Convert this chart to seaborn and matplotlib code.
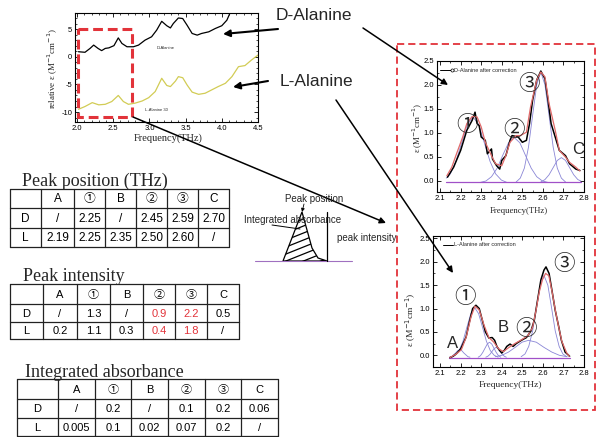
import matplotlib
matplotlib.use("Agg")
import matplotlib.pyplot as plt
import seaborn as sns
from matplotlib.patches import Rectangle, Polygon
from matplotlib.ticker import MultipleLocator

# ---------------- data: overview spectra (relative epsilon) ----------------
freq_D = [2.02, 2.11, 2.18, 2.23, 2.29, 2.34, 2.39, 2.44, 2.51, 2.57, 2.62, 2.69, 2.78,
          2.85, 2.94, 3.03, 3.10, 3.17, 3.24, 3.29, 3.33, 3.40, 3.46, 3.52, 3.59, 3.66,
          3.72, 3.82, 3.91, 4.00, 4.07, 4.11]
rel_D = [0.9, 0.8, 1.5, 2.1, 1.5, 1.1, 1.5, 1.6, 2.0, 3.4, 2.4, 1.8, 1.8,
         2.1, 3.0, 3.6, 4.8, 6.4, 5.6, 5.2, 6.0, 7.0, 6.9, 5.7, 4.2, 3.9,
         4.2, 4.5, 5.1, 5.6, 6.6, 7.8]
freq_L = [2.02, 2.11, 2.21, 2.30, 2.39, 2.48, 2.57, 2.64, 2.71, 2.80, 2.90, 2.99, 3.08,
          3.17, 3.24, 3.29, 3.36, 3.40, 3.46, 3.52, 3.59, 3.68, 3.77, 3.86, 3.95, 4.05,
          4.14, 4.23, 4.32, 4.41, 4.51]
rel_L = [-9.5, -9.0, -8.3, -8.7, -8.6, -8.1, -7.0, -8.1, -8.6, -8.4, -8.0, -7.4, -6.3,
         -3.9, -5.2, -5.4, -4.4, -3.6, -3.8, -5.1, -6.4, -6.8, -6.6, -6.0, -5.4, -4.8,
         -3.6, -1.8, -1.6, -0.6, 0.4]

# ---------------- data: D-Alanine after correction ----------------
d_freq = [2.136, 2.166, 2.20, 2.23, 2.256, 2.27, 2.28, 2.29, 2.30, 2.32, 2.33, 2.35, 2.355,
          2.375, 2.39, 2.40, 2.42, 2.44, 2.45, 2.48, 2.50, 2.52, 2.535, 2.55, 2.57, 2.59,
          2.61, 2.625, 2.64, 2.66, 2.68, 2.71, 2.73, 2.76, 2.78]
d_abs = [0.07, 0.28, 0.63, 1.05, 1.26, 1.43, 1.19, 1.15, 0.91, 0.84, 0.56, 0.66, 0.45,
         0.31, 0.24, 0.42, 0.52, 0.84, 0.94, 0.91, 0.80, 0.84, 1.19, 1.68, 2.10, 2.29,
         2.13, 1.68, 1.19, 0.91, 0.63, 0.52, 0.35, 0.24, 0.21]
dfit_freq = [2.133, 2.157, 2.18, 2.21, 2.23, 2.256, 2.28, 2.30, 2.32, 2.35, 2.37, 2.40, 2.42,
             2.44, 2.47, 2.49, 2.52, 2.54, 2.57, 2.59, 2.61, 2.63, 2.66, 2.68, 2.71, 2.73,
             2.76, 2.78]
dfit_abs = [0.10, 0.28, 0.56, 0.91, 1.19, 1.34, 1.33, 1.12, 0.80, 0.52, 0.35, 0.31, 0.52,
            0.80, 0.94, 0.94, 1.01, 1.54, 2.10, 2.27, 2.17, 1.61, 1.05, 0.63, 0.49, 0.38,
            0.28, 0.20]
d_c1_x = [2.13, 2.15, 2.177, 2.205, 2.232, 2.26, 2.288, 2.315, 2.343, 2.37, 2.398, 2.425]
d_c1_y = [0.05, 0.14, 0.40, 0.79, 1.17, 1.33, 1.17, 0.79, 0.40, 0.14, 0.01, -0.04]
d_c2_x = [2.295, 2.323, 2.35, 2.378, 2.405, 2.433, 2.46, 2.488, 2.515, 2.543, 2.57, 2.598, 2.625]
d_c2_y = [-0.04, -0.01, 0.08, 0.26, 0.53, 0.79, 0.90, 0.79, 0.53, 0.26, 0.08, -0.01, -0.04]
d_c3_x = [2.47, 2.49, 2.51, 2.53, 2.55, 2.57, 2.59, 2.61, 2.63, 2.65, 2.67, 2.69, 2.71]
d_c3_y = [-0.03, 0.05, 0.26, 0.70, 1.36, 2.00, 2.27, 2.00, 1.36, 0.70, 0.26, 0.05, -0.03]
d_cC_x = [2.59, 2.61, 2.63, 2.65, 2.67, 2.69, 2.71, 2.73, 2.75, 2.77, 2.785]
d_cC_y = [-0.03, 0.02, 0.12, 0.27, 0.42, 0.48, 0.42, 0.27, 0.12, 0.02, -0.01]
d_base_x = [2.13, 2.785]
d_base_y = [-0.04, -0.04]

# ---------------- data: L-Alanine after correction ----------------
l_freq = [2.147, 2.163, 2.18, 2.20, 2.226, 2.242, 2.258, 2.274, 2.29, 2.305, 2.32, 2.337,
          2.353, 2.365, 2.376, 2.388, 2.40, 2.413, 2.424, 2.44, 2.455, 2.47, 2.495, 2.52,
          2.542, 2.558, 2.574, 2.59, 2.605, 2.615, 2.63, 2.645, 2.66, 2.677, 2.69, 2.708, 2.73]
l_abs = [-0.05, -0.02, 0.04, 0.14, 0.39, 0.71, 1.0, 1.07, 1.0, 0.75, 0.5, 0.37,
         0.38, 0.32, 0.19, 0.11, 0.05, 0.11, 0.19, 0.24, 0.19, 0.25, 0.32, 0.38,
         0.52, 0.75, 1.18, 1.61, 1.82, 1.89, 1.75, 1.36, 0.96, 0.61, 0.32, 0.07, -0.02]
lfit_freq = [2.147, 2.179, 2.203, 2.226, 2.25, 2.269, 2.29, 2.313, 2.337, 2.361, 2.384, 2.408,
             2.432, 2.463, 2.495, 2.527, 2.55, 2.566, 2.582, 2.598, 2.613, 2.629, 2.645,
             2.661, 2.677, 2.692, 2.716, 2.729]
lfit_abs = [-0.05, 0.03, 0.12, 0.38, 0.82, 1.05, 0.97, 0.65, 0.38, 0.28, 0.14, 0.08,
            0.16, 0.25, 0.33, 0.42, 0.6, 0.95, 1.35, 1.62, 1.75, 1.7, 1.35,
            0.95, 0.6, 0.3, 0.05, -0.02]
l_cA_x = [2.145, 2.155, 2.165, 2.175, 2.185, 2.195, 2.205, 2.215, 2.225, 2.235, 2.245]
l_cA_y = [-0.04, -0.03, 0.01, 0.05, 0.10, 0.12, 0.10, 0.05, 0.01, -0.03, -0.04]
l_c1_x = [2.154, 2.173, 2.192, 2.211, 2.23, 2.249, 2.268, 2.287, 2.306, 2.325, 2.344, 2.363, 2.382]
l_c1_y = [-0.04, 0.00, 0.10, 0.30, 0.60, 0.89, 1.02, 0.89, 0.60, 0.30, 0.10, 0.00, -0.04]
l_cB1_x = [2.285, 2.296, 2.307, 2.318, 2.329, 2.34, 2.351, 2.362, 2.373, 2.384, 2.395]
l_cB1_y = [-0.04, -0.01, 0.06, 0.15, 0.24, 0.28, 0.24, 0.15, 0.06, -0.01, -0.04]
l_cB2_x = [2.322, 2.332, 2.342, 2.352, 2.362, 2.372, 2.382, 2.392, 2.402, 2.412, 2.422]
l_cB2_y = [-0.04, -0.02, 0.02, 0.08, 0.14, 0.17, 0.14, 0.08, 0.02, -0.02, -0.04]
l_c2_x = [2.368, 2.40, 2.433, 2.465, 2.498, 2.53, 2.568, 2.605, 2.643, 2.68, 2.718]
l_c2_y = [-0.03, 0.00, 0.07, 0.17, 0.28, 0.32, 0.28, 0.17, 0.07, 0.00, -0.03]
l_c3_x = [2.494, 2.513, 2.531, 2.55, 2.568, 2.587, 2.605, 2.624, 2.642, 2.66, 2.679, 2.697, 2.716]
l_c3_y = [-0.03, 0.03, 0.19, 0.52, 1.02, 1.50, 1.71, 1.50, 1.02, 0.52, 0.19, 0.03, -0.03]
l_base_x = [2.145, 2.73]
l_base_y = [-0.05, -0.05]

# ---------------- data: tables ----------------
peak_cols = ["A", "①", "B", "②", "③", "C"]
pos_D = ["/", "2.25", "/", "2.45", "2.59", "2.70"]
pos_L = ["2.19", "2.25", "2.35", "2.50", "2.60", "/"]
int_D = ["/", "1.3", "/", "0.9", "2.2", "0.5"]
int_L = ["0.2", "1.1", "0.3", "0.4", "1.8", "/"]
area_D = ["/", "0.2", "/", "0.1", "0.2", "0.06"]
area_L = ["0.005", "0.1", "0.02", "0.07", "0.2", "/"]
top_xticks = [2.0, 2.5, 3.0, 3.5, 4.0, 4.5]
top_yticks = [-10, -5, 0, 5]
fit_xticks = [2.1, 2.2, 2.3, 2.4, 2.5, 2.6, 2.7, 2.8]
fit_yticks = [0.0, 0.5, 1.0, 1.5, 2.0, 2.5]

# ---------------- figure ----------------
W, H = 597, 437
sns.set_theme(style="white")
plt.rcParams["font.family"] = ["Liberation Sans", "Noto Sans CJK JP", "DejaVu Sans"]
SANS = ["Liberation Sans", "Noto Sans CJK JP", "DejaVu Sans"]
SERIF = ["Liberation Serif", "DejaVu Serif"]
RED = "#e2333a"

fig = plt.figure(figsize=(W / 100, H / 100), dpi=100)
fig.patch.set_facecolor("white")


def add_ax(l, t, r, b):
    return fig.add_axes([l / W, 1 - b / H, (r - l) / W, (b - t) / H])


def style_axes(ax):
    for s in ax.spines.values():
        s.set_visible(True)
        s.set_color("black")
        s.set_linewidth(0.8)
    ax.set_facecolor("white")
    ax.tick_params(which="both", direction="in", top=True, right=True, bottom=True,
                   left=True, colors="black", labelsize=5.5, pad=2)
    ax.tick_params(which="major", length=3, width=0.6)
    ax.tick_params(which="minor", length=1.6, width=0.5)
    ax.set_xlabel("")
    ax.set_ylabel("")


# overview plot
ax0 = add_ax(75, 13, 258, 122)
sns.lineplot(x=freq_D, y=rel_D, ax=ax0, color="black", linewidth=0.9, legend=False)
sns.lineplot(x=freq_L, y=rel_L, ax=ax0, color="#d2cc55", linewidth=0.9, legend=False)
ax0.set_xlim(1.972, 4.5)
ax0.set_ylim(-11.8, 7.9)
ax0.set_xticks(top_xticks)
ax0.set_xticklabels([f"{v:.1f}" for v in top_xticks])
ax0.set_yticks(top_yticks)
ax0.set_yticklabels([str(v) for v in top_yticks])
ax0.xaxis.set_minor_locator(MultipleLocator(0.1))
ax0.yaxis.set_minor_locator(MultipleLocator(1))
style_axes(ax0)
ax0.text(3.22, 1.6, "D-Alanine", fontsize=3, ha="center", va="center")
ax0.text(3.1, -9.6, "L-Alanine 30", fontsize=3, ha="center", va="center")


def fit_panel(ax, mx, my, fx, fy, comps, bx, by, xl, yl):
    for cx, cy in comps:
        sns.lineplot(x=cx, y=cy, ax=ax, color="#8a86d6", linewidth=0.6, legend=False)
    sns.lineplot(x=bx, y=by, ax=ax, color="#a050c8", linewidth=0.9, legend=False)
    sns.lineplot(x=mx, y=my, ax=ax, color="black", linewidth=1.1, legend=False)
    sns.lineplot(x=fx, y=fy, ax=ax, color="#e06a6a", linewidth=0.9, legend=False)
    ax.set_xlim(*xl)
    ax.set_ylim(*yl)
    ax.set_xticks(fit_xticks)
    ax.set_xticklabels([f"{v:.1f}" for v in fit_xticks])
    ax.set_yticks(fit_yticks)
    ax.set_yticklabels([f"{v:.1f}" for v in fit_yticks])
    ax.xaxis.set_minor_locator(MultipleLocator(0.05))
    ax.yaxis.set_minor_locator(MultipleLocator(0.25))
    style_axes(ax)


axD = add_ax(437, 61, 584, 192)
fit_panel(axD, d_freq, d_abs, dfit_freq, dfit_abs,
          [(d_c1_x, d_c1_y), (d_c2_x, d_c2_y), (d_c3_x, d_c3_y), (d_cC_x, d_cC_y)],
          d_base_x, d_base_y, (2.085, 2.8), (-0.24, 2.5))

axL = add_ax(433, 236, 584, 367)
fit_panel(axL, l_freq, l_abs, lfit_freq, lfit_abs,
          [(l_cA_x, l_cA_y), (l_c1_x, l_c1_y), (l_cB1_x, l_cB1_y), (l_cB2_x, l_cB2_y),
           (l_c2_x, l_c2_y), (l_c3_x, l_c3_y)],
          l_base_x, l_base_y, (2.065, 2.8), (-0.25, 2.55))

# ---------------- overlay for annotations, tables ----------------
ov = fig.add_axes([0, 0, 1, 1])
ov.set_xlim(0, W)
ov.set_ylim(H, 0)
ov.axis("off")

# axis labels
ov.text(168, 138, "Frequency(THz)", family=SERIF, fontsize=7.5, ha="center", va="center")
ov.text(53, 68, "relative ε (M$^{-1}$cm$^{-1}$)", family=SERIF, fontsize=6.5,
        ha="center", va="center", rotation=90)
ov.text(519, 211, "Frequency(THz)", family=SERIF, fontsize=6.3, ha="center", va="center")
ov.text(510, 385, "Frequency(THz)", family=SERIF, fontsize=6.8, ha="center", va="center")
ov.text(418, 128, "ε (M$^{-1}$cm$^{-1}$)", family=SERIF, fontsize=6.3,
        ha="center", va="center", rotation=90)
ov.text(411, 320, "ε (M$^{-1}$cm$^{-1}$)", family=SERIF, fontsize=6.8,
        ha="center", va="center", rotation=90)

# mini legends
ov.plot([440, 452], [70, 70], color="black", lw=0.7)
ov.plot([452], [70], marker="o", ms=2.2, mfc="white", mec="black", mew=0.5)
ov.text(454, 70, "D-Alanine after correction", fontsize=4, ha="left", va="center")
ov.plot([443, 453], [245, 245], color="black", lw=0.7)
ov.text(454, 245, "L-Alanine after correction", fontsize=4, ha="left", va="center")

# peak markers in fit panels
for (x, y, s) in [(467, 125, "①"), (514, 130, "②"), (529, 84, "③"),
                  (465, 297, "①"), (526, 329, "②"), (564, 264, "③")]:
    ov.text(x, y, s, family=["Noto Sans CJK JP", "DejaVu Sans"], fontsize=15.5,
            ha="center", va="center")
for (x, y, s) in [(578, 150, "C"), (453, 343, "A"), (503, 328, "B")]:
    ov.text(x, y, s, fontsize=12, ha="center", va="center")

# big labels
ov.text(314, 16, "D-Alanine", fontsize=12.5, ha="center", va="center")
ov.text(316, 82, "L-Alanine", fontsize=12.5, ha="center", va="center")

# dashed boxes
ov.add_patch(Rectangle((78, 29), 54, 88, fill=False, ec=RED, lw=2.2,
                       ls=(0, (3.2, 1.6))))
ov.add_patch(Rectangle((397, 44), 198, 366, fill=False, ec=RED, lw=1.3,
                       ls=(0, (4, 2.2))))

# arrows
def arrow(x0, y0, x1, y1, lw=1.1, ms=9):
    ov.annotate("", xy=(x1, y1), xytext=(x0, y0),
                arrowprops=dict(arrowstyle="-|>", color="black", lw=lw,
                                mutation_scale=ms, shrinkA=0, shrinkB=0))

arrow(278, 29, 223, 34, lw=1.5, ms=10)
arrow(268, 81, 233, 87, lw=1.5, ms=10)
arrow(363, 28, 448, 85)
arrow(336, 100, 453, 273)
arrow(133, 117, 386, 223)

# schematic of a peak
ov.plot([255, 352], [261, 261], color="#a070c0", lw=0.8)
peak = Polygon([(283, 261), (302, 212), (312, 248), (318, 258), (327, 261)],
               closed=True, fill=False, ec="black", lw=0.9)
ov.add_patch(peak)
for y0 in range(216, 292, 7):
    ln, = ov.plot([276, 336], [y0, y0 - 24], color="black", lw=0.9)
    ln.set_clip_path(peak)
ov.plot([327, 327], [212, 261], color="black", lw=0.9)
ov.plot([272, 300], [225, 229], color="black", lw=0.7)
arrow(304, 204, 302, 212, lw=0.6, ms=5)
ov.text(314, 199, "Peak position", fontsize=7, ha="center", va="center")
ov.text(293, 220, "Integrated absorbance", fontsize=7, ha="center", va="center")
ov.text(367, 238, "peak intensity", fontsize=7, ha="center", va="center")


# tables
def draw_table(title, tx, ty, xe, ye, rowD, rowL, red_cols=(), fs=8):
    ov.text(tx, ty, title, family=SERIF, fontsize=13, ha="left", va="baseline")
    for x in xe:
        ov.plot([x, x], [ye[0], ye[-1]], color="#222222", lw=0.9)
    for y in ye:
        ov.plot([xe[0], xe[-1]], [y, y], color="#222222", lw=0.9)
    rows = [[""] + peak_cols, ["D"] + rowD, ["L"] + rowL]
    for i, row in enumerate(rows):
        for j, val in enumerate(row):
            col = RED if (i > 0 and (j - 1) in red_cols) else "black"
            ov.text((xe[j] + xe[j + 1]) / 2, (ye[i] + ye[i + 1]) / 2 + 0.8, val,
                    family=SANS, fontsize=fs, color=col, ha="center", va="center")


draw_table("Peak position (THz)", 22, 186,
           [10, 41, 74, 105, 136, 167, 198, 229], [189, 208, 228, 247],
           pos_D, pos_L, fs=8.5)
draw_table("Peak intensity", 23, 281,
           [10, 43, 77, 110, 143, 175, 207, 239], [284, 304, 322, 339],
           int_D, int_L, red_cols=(3, 4), fs=8)
draw_table("Integrated absorbance", 25, 377,
           [17, 58, 95, 131, 168, 205, 241, 278], [379, 399, 418, 436],
           area_D, area_L, fs=8)

fig.savefig("out.png", dpi=100, facecolor="white")
